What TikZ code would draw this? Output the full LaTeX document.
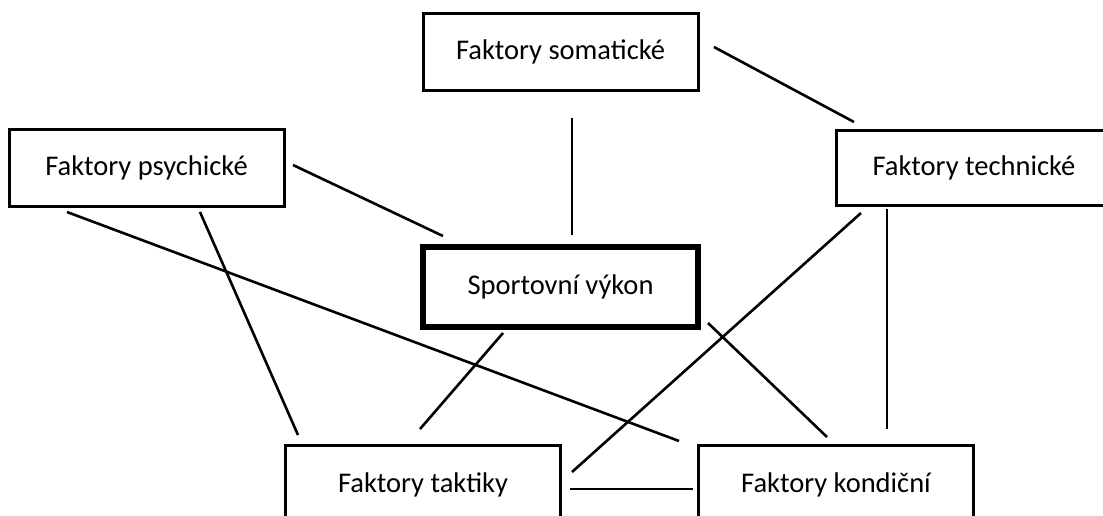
\documentclass[tikz,border=0pt]{standalone}
\usepackage{fontspec}
\setmainfont{Carlito}
\begin{document}
\begin{tikzpicture}[x=1pt,y=-1pt,
  box/.style={draw=black,line width=3pt,fill=white,rectangle,inner sep=0pt,
    minimum width=275pt,minimum height=77pt,font=\fontsize{28.5}{34}\selectfont},
  mainbox/.style={box,line width=5.5pt,minimum height=80pt},
  link/.style={draw=black,line width=2.6pt}]
\useasboundingbox (0,0) rectangle (1103,515);
\node[box] (soma) at (560.5,51.5) {Faktory somatické};
\node[box] (psych) at (146.5,167.5) {Faktory psychické};
\node[box,minimum height=75pt] (tech) at (974,167.5) {Faktory technické};
\node[mainbox] (sport) at (560.5,287) {Sportovní výkon};
\node[box,minimum height=80pt] (takt) at (423,485) {Faktory taktiky};
\node[box,minimum height=80pt] (kond) at (836,485) {Faktory kondiční};
% connector end points
\coordinate (a1) at (714,47);   \coordinate (a2) at (854,122);
\coordinate (b1) at (572,118);  \coordinate (b2) at (572,235);
\coordinate (c1) at (293,165);  \coordinate (c2) at (443,236);
\coordinate (d1) at (67,212);   \coordinate (d2) at (679,441);
\coordinate (e1) at (200,212);  \coordinate (e2) at (298,435);
\coordinate (f1) at (503,333);  \coordinate (f2) at (420,429);
\coordinate (g1) at (708,323);  \coordinate (g2) at (827,437);
\coordinate (h1) at (861,213);  \coordinate (h2) at (572,472);
\coordinate (i1) at (887,209);  \coordinate (i2) at (887,429);
\coordinate (j1) at (570,489);  \coordinate (j2) at (693,489);
\draw[link] (a1) -- (a2);
\draw[link] (b1) -- (b2);
\draw[link] (c1) -- (c2);
\draw[link] (d1) -- (d2);
\draw[link] (e1) -- (e2);
\draw[link] (f1) -- (f2);
\draw[link] (g1) -- (g2);
\draw[link] (h1) -- (h2);
\draw[link] (i1) -- (i2);
\draw[link] (j1) -- (j2);
\end{tikzpicture}
\end{document}
